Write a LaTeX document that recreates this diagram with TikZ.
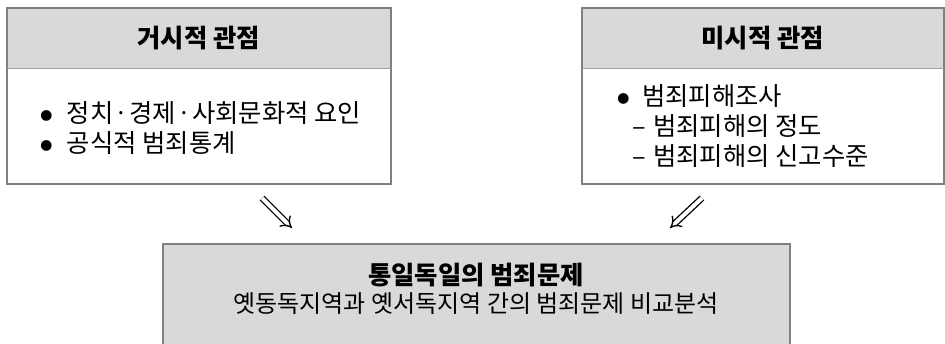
\documentclass[tikz,border=0pt]{standalone}
\usepackage{fontspec}
\setmainfont{Noto Sans CJK KR}
\usetikzlibrary{arrows.meta}

\definecolor{headgray}{RGB}{217,217,217}
\definecolor{framegray}{RGB}{128,128,128}
\definecolor{linegray}{RGB}{160,160,160}

\newcommand{\dotmark}{\makebox[0pt][l]{\raisebox{1.2pt}{\fontsize{9}{9}\selectfont ●}}}
\newcommand{\middot}{\makebox[12pt]{ㆍ}}

\tikzset{
  headbox/.style={fill=headgray, inner sep=0pt, anchor=north west,
    font=\fontsize{19}{22}\selectfont\bfseries},
  bodybox/.style={fill=white, inner sep=0pt, anchor=north},
  bodytext/.style={align=left, inner sep=0pt, anchor=west,
    font=\fontsize{19}{22.5}\selectfont},
  frame/.style={draw=framegray, line width=1.5pt},
  divider/.style={draw=linegray, line width=1pt},
  flow/.style={double, double distance=3pt, line width=1pt, -{Implies}},
}

\begin{document}
\begin{tikzpicture}[x=0.75pt, y=-0.75pt]
  \useasboundingbox (0,0) rectangle (945,343);

  % macro view
  \node[headbox, minimum width=383*0.75pt, minimum height=60*0.75pt] (macroHead) at (7,8) {거시적\ 관점};
  \node[bodybox, minimum width=383*0.75pt, minimum height=115*0.75pt] (macroBody) at (macroHead.south) {};
  \node[bodytext] (macroList) at (40,128) {\dotmark\hspace{20pt}정치\middot 경제\middot 사회문화적 요인\\
    \dotmark\hspace{20pt}공식적 범죄통계};
  \draw[frame] (macroHead.north west) rectangle (macroBody.south east);
  \draw[divider] (macroHead.south west) -- (macroHead.south east);

  % micro view
  \node[headbox, minimum width=361*0.75pt, minimum height=60*0.75pt] (microHead) at (582,8) {미시적\ 관점};
  \node[bodybox, minimum width=361*0.75pt, minimum height=115*0.75pt] (microBody) at (microHead.south) {};
  \node[bodytext] (microList) at (617,126) {\dotmark\hspace{18.75pt}범죄피해조사\\
    \hspace{11.25pt}\makebox[15.75pt][l]{–}범죄피해의 정도\\
    \hspace{11.25pt}\makebox[15.75pt][l]{–}범죄피해의 신고수준};
  \draw[frame] (microHead.north west) rectangle (microBody.south east);
  \draw[divider] (microHead.south west) -- (microHead.south east);

  % result
  \node[headbox, minimum width=626*0.75pt, minimum height=104*0.75pt] (result) at (163,244) {};
  \node[align=center, inner sep=0pt, font=\fontsize{18}{21}\selectfont] (resultText) at (476,289)
    {{\fontsize{19}{22}\selectfont\bfseries 통일독일의 범죄문제}\\
     옛동독지역과 옛서독지역 간의 범죄문제 비교분석};
  \draw[frame] (result.south west) |- (result.north east) -- (result.south east);

  % arrows
  \coordinate (macroOut) at (262,198);
  \coordinate (macroIn) at (292,228);
  \coordinate (microOut) at (702,198);
  \coordinate (microIn) at (670,228);
  \draw[flow] (macroOut) -- (macroIn);
  \draw[flow] (microOut) -- (microIn);
\end{tikzpicture}
\end{document}
